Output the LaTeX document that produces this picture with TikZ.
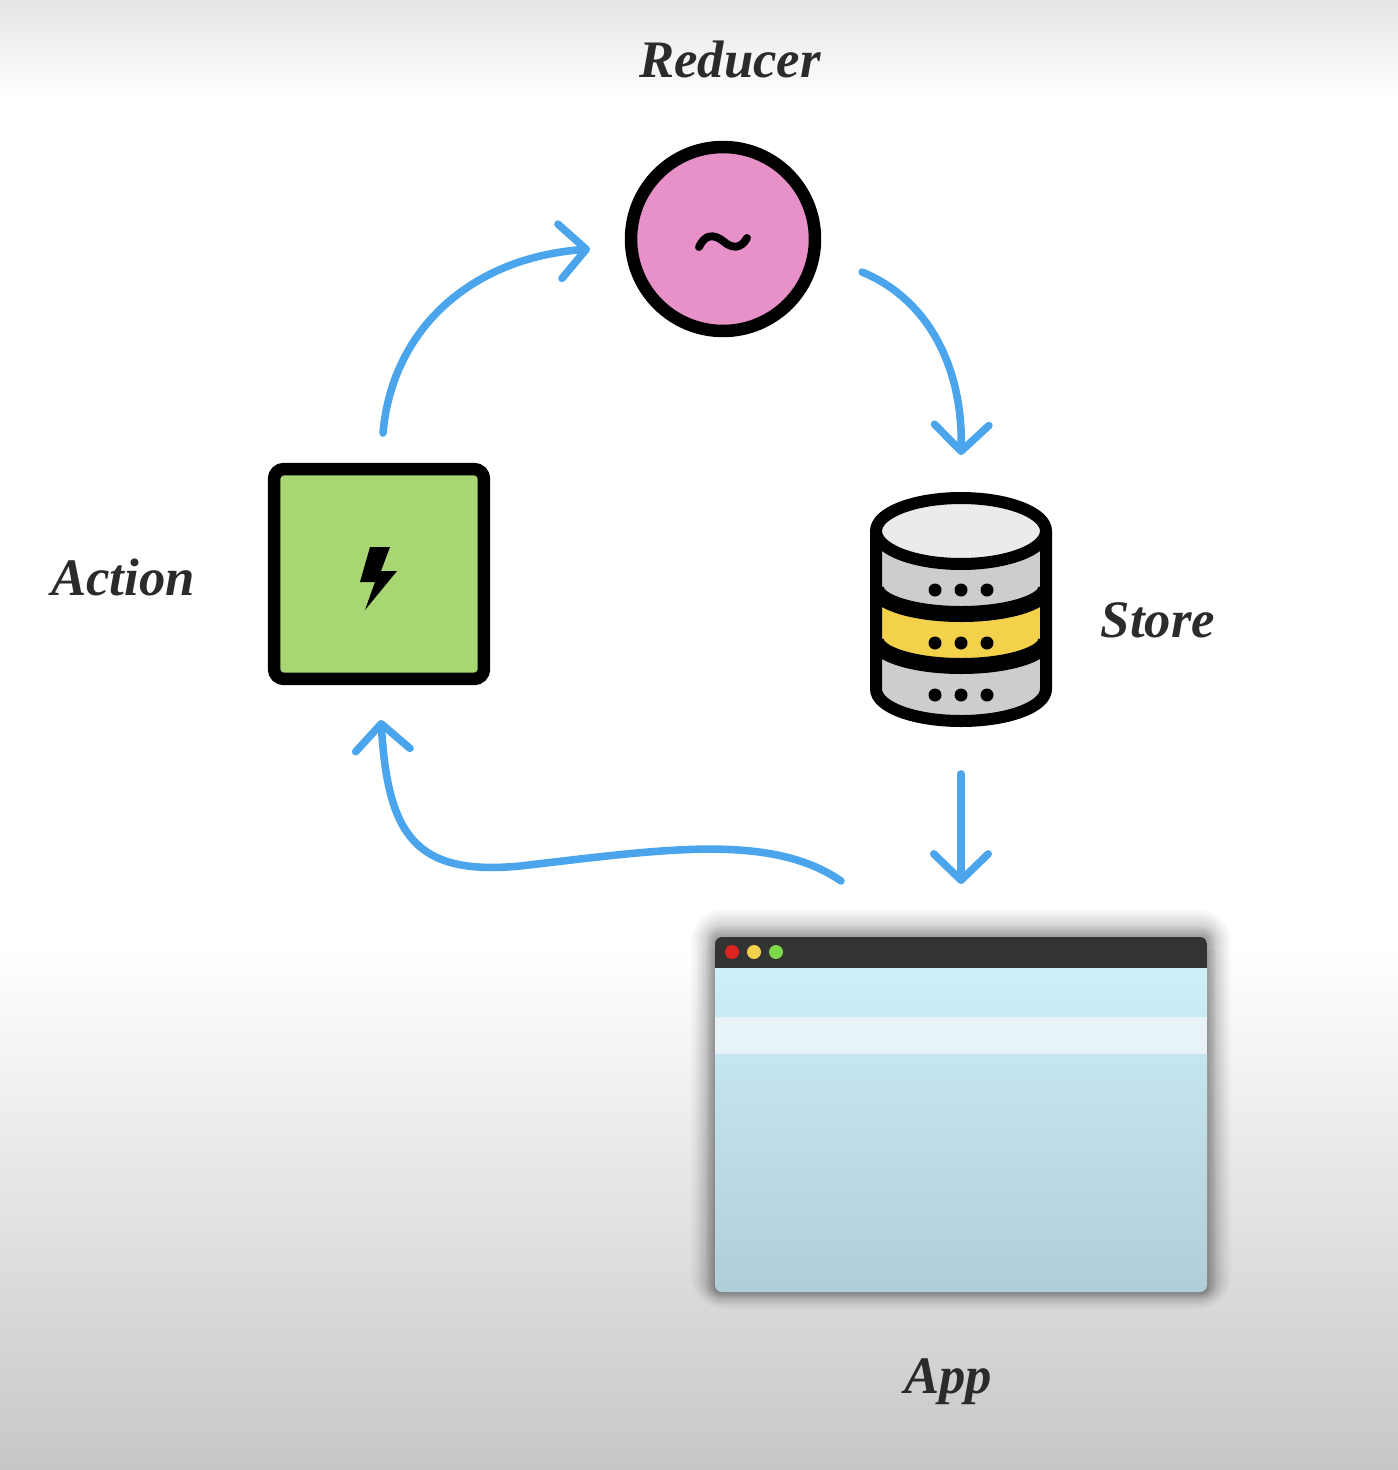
\documentclass[tikz,border=0pt]{standalone}
\usepackage{fontspec}
\setmainfont{Liberation Serif}
\usetikzlibrary{arrows.meta}

\definecolor{flowblue}{HTML}{4AA5EC}
\definecolor{inkgray}{HTML}{2B2B2B}
\definecolor{pinkfill}{HTML}{E891C8}
\definecolor{greenfill}{HTML}{A8D672}
\definecolor{bandgray}{HTML}{CDCDCD}
\definecolor{bandyellow}{HTML}{F4D14B}
\definecolor{rowtop}{HTML}{CFF0FB}
\definecolor{rowbottom}{HTML}{C9E9F4}
\definecolor{rowlight}{HTML}{E8F3F8}
\definecolor{bodytop}{HTML}{C5E5F0}
\definecolor{bodybottom}{HTML}{B0CED9}
\definecolor{dotred}{HTML}{DD2222}
\definecolor{dotgreen}{HTML}{7FD84A}

\tikzset{
    flow/.style={color=flowblue, line width=4.3pt, line cap=round, line join=round,
        -{Straight Barb[length=15pt, width=31pt, round]}},
    label/.style={font=\fontsize{30}{34}\selectfont\bfseries\itshape, text=inkgray},
    icon/.style={draw=black, line width=0.25cm},
    stack/.style={line width=0.24cm, line join=round}
}

\begin{document}
\begin{tikzpicture}[x=0.02cm, y=-0.02cm]

    \useasboundingbox (0, 0) rectangle (1398, 1470);

    % background
    \shade[top color=black!10, bottom color=white] (0, 0) rectangle (1398, 100);
    \shade[top color=white, bottom color=black!22] (0, 950) rectangle (1398, 1470);

    % reducer
    \node[icon, circle, fill=pinkfill, minimum size=3.68cm] (reducer) at (723, 239) {};
    \draw[line width=4.5pt, line cap=round] (699, 247) .. controls (705, 234) and (714, 234) .. (723, 241)
        .. controls (732, 249) and (741, 249) .. (747, 238);
    \node[label] (reducerlabel) at (730, 60) {Reducer};

    % action
    \node[icon, rectangle, rounded corners=0.2cm, fill=greenfill, minimum size=4.2cm] (action) at (379, 574) {};
    \fill[black] (370, 547) -- (390, 547) -- (381, 571) -- (397, 571) -- (365, 610) -- (375, 582) -- (360, 582) -- cycle;
    \node[label] (actionlabel) at (123, 577) {Action};

    % store
    \node[minimum width=3.64cm, minimum height=4.72cm] (store) at (961, 610) {};
    \fill[bandgray] (876, 531) -- (876, 689) -- (1046, 689) -- (1046, 531) -- cycle;
    \fill[bandgray] (876, 689) .. controls (876, 707) and (914, 722) .. (961, 722)
        .. controls (1008, 722) and (1046, 707) .. (1046, 689) -- cycle;
    \fill[bandyellow] (876, 588) .. controls (876, 602) and (914, 614) .. (961, 614)
        .. controls (1008, 614) and (1046, 602) .. (1046, 588)
        -- (1046, 640) .. controls (1046, 654) and (1008, 666) .. (961, 666)
        .. controls (914, 666) and (876, 654) .. (876, 640) -- cycle;
    \begin{scope}
        \clip (876, 560) rectangle (1046, 700);
        \foreach \y in {588, 640} {
            \draw[line width=0.32cm] (876, \y) .. controls (876, \y+14) and (914, \y+26) .. (961, \y+26)
                .. controls (1008, \y+26) and (1046, \y+14) .. (1046, \y);
        }
    \end{scope}
    \draw[stack] (876, 531) -- (876, 689) .. controls (876, 707) and (914, 721) .. (961, 721)
        .. controls (1008, 721) and (1046, 707) .. (1046, 689) -- (1046, 531);
    \draw[stack, fill=black!8] (961, 531) ellipse [x radius=1.7cm, y radius=0.66cm];
    \foreach \y in {590, 643, 695} {
        \foreach \x in {935, 961, 987} {
            \fill[black] (\x, \y) circle (0.13cm);
        }
    }
    \node[label] (storelabel) at (1158, 620) {Store};

    % app window
    \foreach \r in {1, 2, 3, 4, 5, 6, 7, 8, 9, 10, 11, 12, 14, 16, 18, 20, 22, 25, 28} {
        \fill[black, opacity=0.025, rounded corners=\r*0.02cm+0.1cm]
            (715-0.85*\r, 937-\r) rectangle (1207+0.85*\r, 1292+0.6*\r);
    }
    \node[minimum width=9.84cm, minimum height=7.1cm] (app) at (961, 1114.5) {};
    \begin{scope}
        \clip[rounded corners=0.14cm] (715, 937) rectangle (1207, 1292);
        \fill[black!80] (715, 937) rectangle (1207, 968);
        \shade[top color=rowtop, bottom color=rowbottom] (715, 968) rectangle (1207, 1017);
        \fill[rowlight] (715, 1017) rectangle (1207, 1054);
        \shade[top color=bodytop, bottom color=bodybottom] (715, 1054) rectangle (1207, 1292);
    \end{scope}
    \fill[dotred] (732, 952) circle (0.14cm);
    \fill[bandyellow] (754, 952) circle (0.14cm);
    \fill[dotgreen] (776, 952) circle (0.14cm);
    \node[label] (applabel) at (948, 1382) {App};

    % connectors
    \coordinate (actionout) at (383, 433);
    \coordinate (reducerin) at (590, 249);
    \coordinate (reducerout) at (862, 272);
    \coordinate (storein) at (961, 455);
    \coordinate (storeout) at (961, 774);
    \coordinate (appin) at (961, 884);
    \coordinate (appout) at (841, 881);
    \coordinate (actionin) at (381, 720);

    \draw[flow] (actionout) .. controls (392, 330) and (470, 258) .. (reducerin);
    \draw[flow] (reducerout) .. controls (930, 300) and (963, 370) .. (storein);
    \draw[flow] (storeout) -- (appin);
    \draw[flow] (appout) .. controls (770, 832) and (660, 850) .. (520, 866)
        .. controls (415, 876) and (388, 835) .. (actionin);

\end{tikzpicture}
\end{document}
